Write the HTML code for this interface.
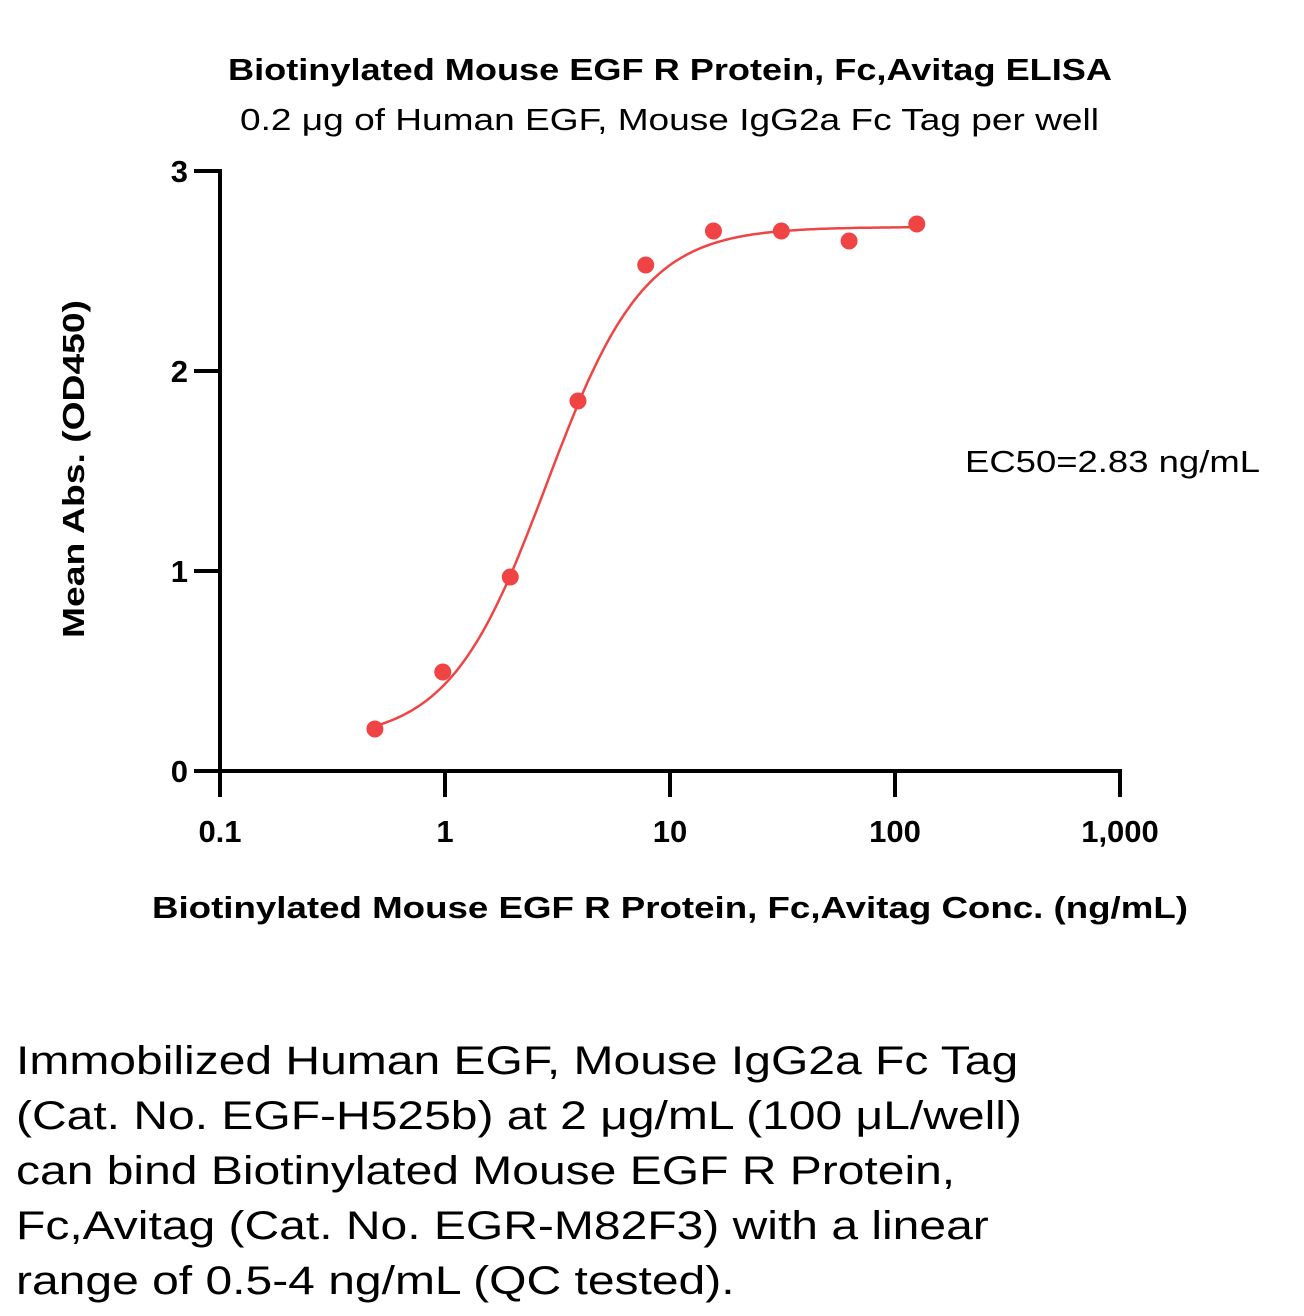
<!DOCTYPE html>
<html><head><meta charset="utf-8"><style>
body{margin:0;background:#fff;width:1304px;height:1316px;overflow:hidden;font-family:"Liberation Sans","DejaVu Sans",sans-serif}
svg text{font-family:"Liberation Sans","DejaVu Sans",sans-serif}
#desc{position:absolute;left:16px;top:1034px;font-size:40px;line-height:55px;color:#000;width:1100px;transform:scaleX(1.2);transform-origin:0 0;white-space:nowrap}
</style></head><body>
<svg id="chart" width="1304" height="1010" style="position:absolute;left:0;top:0">
<text x="228" y="80" textLength="884" lengthAdjust="spacingAndGlyphs" font-size="31" font-weight="bold">Biotinylated Mouse EGF R Protein, Fc,Avitag  ELISA</text>
<text x="240" y="130" textLength="859" lengthAdjust="spacingAndGlyphs" font-size="31">0.2 μg of Human EGF, Mouse IgG2a Fc Tag per well</text>
<text transform="translate(84,638) rotate(-90)" textLength="338" lengthAdjust="spacingAndGlyphs" font-size="31" font-weight="bold">Mean Abs. (OD450)</text>
<text x="152" y="918" textLength="1036" lengthAdjust="spacingAndGlyphs" font-size="31" font-weight="bold">Biotinylated Mouse EGF R Protein, Fc,Avitag  Conc. (ng/mL)</text>
<text x="965" y="472" textLength="295" lengthAdjust="spacingAndGlyphs" font-size="31">EC50=2.83 ng/mL</text>
<g id="axes"></g><g id="marks"></g>
</svg>
<div id="desc">Immobilized Human EGF, Mouse IgG2a Fc Tag<br>(Cat. No. EGF-H525b) at 2 μg/mL (100 μL/well)<br>can bind Biotinylated Mouse EGF R Protein,<br>Fc,Avitag (Cat. No. EGR-M82F3) with a linear<br>range of 0.5-4 ng/mL (QC tested).</div>
<script>
const concentrations=[0.488,0.977,1.95,3.9,7.8,15.6,31.25,62.5,125];
const absorbances=[0.21,0.495,0.97,1.85,2.53,2.70,2.70,2.65,2.735];
const fitParams=[0.15,2.72,2.83,2.0]; // bottom, top, EC50, hill
const xTicks=[0.1,1,10,100,1000];
const xTickLabels=["0.1","1","10","100","1,000"];
const yTicks=[0,1,2,3];
const NS="http://www.w3.org/2000/svg";
const X=v=>220+(Math.log10(v)+1)*225;
const Y=v=>771-v*200;
function mk(t,a,p){const e=document.createElementNS(NS,t);for(const k in a)e.setAttribute(k,a[k]);p.appendChild(e);return e;}
const ax=document.getElementById('axes'),mg=document.getElementById('marks');
let l=mk('line',{x1:220,y1:Y(3)-2,x2:220,y2:773,stroke:'#000','stroke-width':4},ax);

l=mk('line',{x1:218,y1:771,x2:1122,y2:771,stroke:'#000','stroke-width':4},ax);

yTicks.forEach(v=>{const t=mk('line',{x1:194,x2:220,y1:Y(v),y2:Y(v),stroke:'#000','stroke-width':4},ax);

const tx=mk('text',{x:188,y:Y(v)+11,'text-anchor':'end','font-size':31,'font-weight':'bold'},ax);tx.textContent=v;
});
xTicks.forEach((v,i)=>{const t=mk('line',{x1:X(v),x2:X(v),y1:771,y2:797,stroke:'#000','stroke-width':4},ax);

const tx=mk('text',{x:X(v),y:842,'text-anchor':'middle','font-size':31,'font-weight':'bold'},ax);tx.textContent=xTickLabels[i];
});
const [b,t,ec,h]=fitParams;
const f=x=>b+(t-b)/(1+Math.pow(ec/x,h));
let d='';const lo=Math.log10(concentrations[0]),hi=Math.log10(concentrations[concentrations.length-1]);
for(let i=0;i<=200;i++){const x=Math.pow(10,lo+(hi-lo)*i/200);d+=(i?'L':'M')+X(x).toFixed(1)+','+Y(f(x)).toFixed(1);}
const c=mk('path',{d:d,fill:'none',stroke:'#f04444','stroke-width':2.5},mg);

concentrations.forEach((v,i)=>{const p=mk('circle',{cx:X(v),cy:Y(absorbances[i]),r:8.5,fill:'#f04444'},mg);
});
</script>
</body></html>
